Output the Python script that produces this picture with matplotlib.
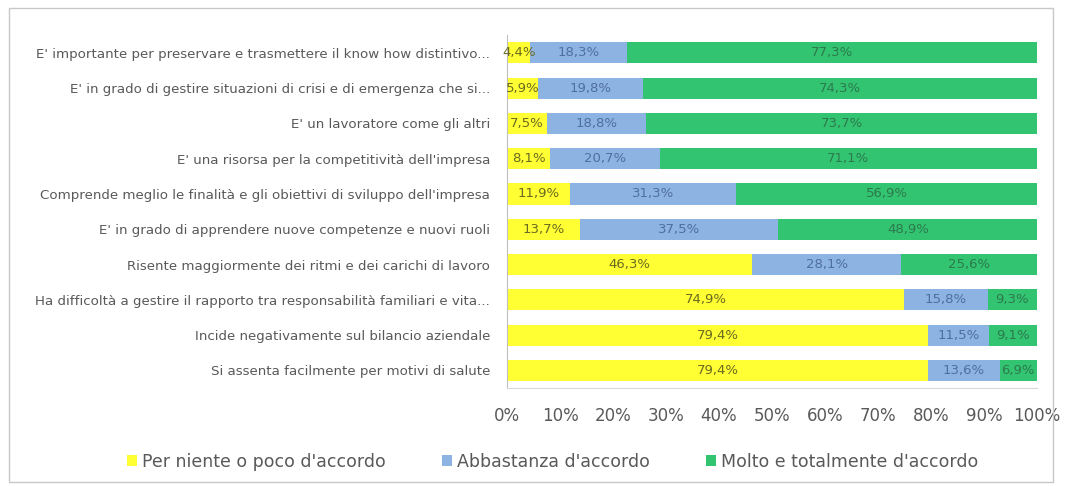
import numpy as np
import matplotlib.pyplot as plt
from matplotlib.patches import Rectangle

categories = [
    "E' importante per preservare e trasmettere il know how distintivo...",
    "E' in grado di gestire situazioni di crisi e di emergenza che si...",
    "E' un lavoratore come gli altri",
    "E' una risorsa per la competitività dell'impresa",
    "Comprende meglio le finalità e gli obiettivi di sviluppo dell'impresa",
    "E' in grado di apprendere nuove competenze e nuovi ruoli",
    "Risente maggiormente dei ritmi e dei carichi di lavoro",
    "Ha difficoltà a gestire il rapporto tra responsabilità familiari e vita...",
    "Incide negativamente sul bilancio aziendale",
    "Si assenta facilmente per motivi di salute",
]
poco = [4.4, 5.9, 7.5, 8.1, 11.9, 13.7, 46.3, 74.9, 79.4, 79.4]
abbastanza = [18.3, 19.8, 18.8, 20.7, 31.3, 37.5, 28.1, 15.8, 11.5, 13.6]
molto = [77.3, 74.3, 73.7, 71.1, 56.9, 48.9, 25.6, 9.3, 9.1, 6.9]
series_names = ["Per niente o poco d'accordo", "Abbastanza d'accordo",
                "Molto e totalmente d'accordo"]

colors = ["#FFFF33", "#8DB3E2", "#33C472"]
text_colors = ["#6a6a20", "#4f6f9f", "#2c7a4c"]

plt.rcParams['font.family'] = ['DejaVu Sans']

fig = plt.figure(figsize=(10.71, 4.86), dpi=100)
fig.patches.append(Rectangle((0.008, 0.008), 0.975, 0.975, transform=fig.transFigure,
                             fill=False, edgecolor='#c8c8c8', linewidth=1))
ax = fig.add_axes([0.4734, 0.2016, 0.4949, 0.726])

y = np.arange(len(categories))
left = np.zeros(len(categories))
for vals, col, tcol, name in zip([poco, abbastanza, molto], colors, text_colors, series_names):
    vals = np.array(vals)
    ax.barh(y, vals, left=left, height=0.6, color=col, label=name)
    for yi, l, v in zip(y, left, vals):
        ax.text(l + v / 2, yi, f"{v:.1f}%".replace('.', ','), ha='center', va='center',
                fontsize=9.5, color=tcol)
    left += vals

ax.set_xlim(0, 100)
ax.set_ylim(len(categories) - 0.5, -0.5)
ax.set_yticks(y)
ax.set_yticklabels(categories, fontsize=9.6, color='#595959')
ax.set_xticks(np.arange(0, 101, 10))
ax.set_xticklabels([f"{t}%" for t in range(0, 101, 10)], fontsize=12, color='#595959')
ax.tick_params(axis='both', length=0)
ax.tick_params(axis='x', pad=14)
ax.tick_params(axis='y', pad=12)
for s in ['top', 'right']:
    ax.spines[s].set_visible(False)
ax.spines['left'].set_color('#bfbfbf')
ax.spines['bottom'].set_color('#d9d9d9')

fig.legend(loc='center', bbox_to_anchor=(0.516, 0.05), ncol=3, frameon=False,
           fontsize=12.5, handlelength=0.6, handleheight=0.6, columnspacing=3.2,
           handletextpad=0.3, labelcolor='#595959')

fig.savefig('out.png', dpi=100)
